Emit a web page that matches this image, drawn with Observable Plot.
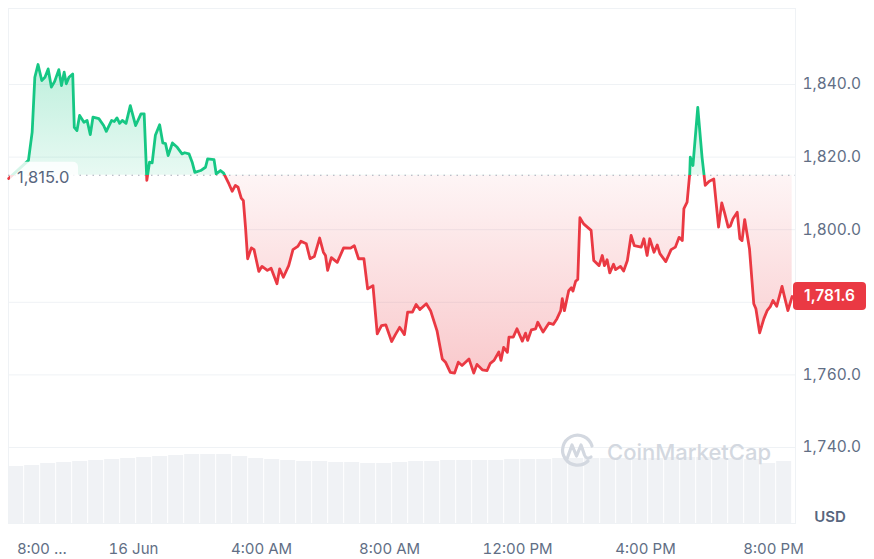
<!DOCTYPE html>
<html><head><meta charset="utf-8">
<script src="https://cdn.jsdelivr.net/npm/d3@7"></script>
<script src="https://cdn.jsdelivr.net/npm/@observablehq/plot@0.6"></script>
<style>
body{margin:0;background:#fff;font-family:Inter,"Noto Sans",sans-serif;}
#wrap{position:relative;width:874px;height:559px;overflow:hidden;}
#wrap svg{position:absolute;left:0;top:0;}
</style></head><body><div id="wrap"></div>
<script>
// minutes since 15 Jun 20:00
const minutes = [6,43,50,55,61,68,74,80,86,92,100,105,110,114,119,126,129,134,139,147,153,159,164,175,184,189,199,204,209,214,219,226,234,244,254,260,265,270,275,281,289,295,300,305,313,322,331,336,344,350,355,366,375,379,391,395,403,409,419,425,431,436,442,446,450,454,461,466,475,481,491,498,509,514,521,531,539,548,554,564,571,579,589,596,600,604,611,622,634,647,654,662,672,679,689,697,705,713,724,731,739,748,754,763,770,777,789,797,809,819,825,834,842,849,856,869,878,884,894,903,909,916,925,929,934,941,944,952,959,969,975,979,986,994,998,1008,1019,1027,1034,1041,1044,1048,1056,1061,1064,1069,1073,1077,1084,1098,1103,1113,1119,1123,1128,1133,1140,1144,1153,1159,1166,1173,1179,1192,1197,1203,1208,1216,1222,1227,1238,1248,1256,1263,1269,1272,1278,1283,1284,1289,1298,1306,1312,1319,1328,1337,1343,1348,1355,1359,1364,1372,1377,1381,1386,1395,1403,1407,1414,1422,1428,1434,1439,1446,1456,1460,1467,1475];
const prices = [1814.1,1819.1,1826.9,1842.0,1845.5,1841.1,1842.0,1844.3,1839.3,1840.8,1844.1,1839.7,1843.4,1840.2,1842.0,1842.9,1828.2,1827.3,1831.5,1829.6,1830.1,1826.2,1831.0,1830.6,1828.7,1827.1,1830.1,1829.8,1830.8,1829.3,1830.1,1829.3,1834.2,1828.7,1831.9,1831.9,1813.6,1818.6,1818.4,1826.0,1828.9,1823.9,1823.7,1820.4,1823.9,1822.7,1820.9,1821.2,1820.9,1818.6,1815.8,1816.3,1817.2,1819.5,1819.3,1815.4,1816.3,1815.6,1812.6,1810.6,1812.2,1811.7,1808.7,1808.0,1800.7,1792.0,1795.0,1794.5,1788.5,1789.9,1788.8,1789.4,1785.1,1789.2,1786.9,1790.1,1794.5,1795.4,1796.8,1796.1,1792.0,1792.6,1797.7,1793.8,1792.9,1788.8,1792.3,1791.0,1795.0,1794.9,1795.6,1792.0,1792.0,1783.7,1784.6,1771.3,1773.6,1773.8,1769.2,1771.1,1773.1,1771.1,1777.3,1777.3,1779.4,1778.0,1779.6,1777.7,1772.2,1764.4,1763.5,1760.7,1760.5,1763.5,1762.6,1764.4,1760.5,1762.9,1761.4,1761.2,1763.2,1764.0,1766.3,1764.0,1767.6,1766.2,1770.4,1770.4,1772.7,1769.3,1771.5,1769.5,1772.4,1772.7,1774.5,1771.8,1774.3,1773.9,1775.5,1777.7,1781.0,1777.7,1783.2,1784.0,1783.1,1785.8,1786.3,1803.3,1801.6,1799.8,1791.5,1790.1,1792.9,1790.1,1791.7,1788.1,1790.5,1789.0,1789.9,1788.6,1791.5,1798.4,1795.6,1795.2,1797.5,1792.9,1797.5,1793.8,1795.8,1793.4,1791.2,1794.5,1795.2,1797.9,1797.0,1805.8,1807.6,1815.6,1820.0,1817.7,1833.7,1820.0,1812.2,1813.3,1814.0,1800.7,1807.4,1804.8,1800.7,1801.0,1803.0,1804.8,1797.5,1797.0,1802.8,1794.7,1779.6,1778.2,1771.6,1775.5,1777.7,1778.8,1780.5,1778.9,1784.4,1781.9,1777.7,1781.6];
// relative volume, 30-minute slots starting at minute 5
const volumes = [57,58,60,61,62,63,64,65,66,67,68,69,69,69,67,65,64,63,62,62,61,61,60,60,61,62,62,63,63,63,63,64,64,64,65,65,65,65,65,65,65,66,66,66,65,65,64,60,62];
const openPrice = 1815.0;
const lastPrice = 1781.6;
const yTicks = [1740,1760,1780,1800,1820,1840];
const yLabelTicks = [1740,1760,1800,1820,1840];
const xTicks = [240,480,720,960,1200,1440];
const xTickLabels = ["16 Jun","4:00 AM","8:00 AM","12:00 PM","4:00 PM","8:00 PM"];
const firstTickLabel = "8:00 ...";

const W=874,H=559,mL=8,mR=79,mT=8,mB=36;
const xDomain=[5.625,1481.25];
const yDomain=[1719.06,1860.94];
const n = Math.min(minutes.length, prices.length);
const data = d3.range(n).map(i=>({m:minutes[i], p:prices[i]}));
const vol = volumes.map((v,i)=>({t0:5+30*i, t1:5+30*(i+1), v}));
const fmt = d3.format(",.1f");
const gray = "#616e85";

const volPlot = Plot.plot({
  width:W,height:H,marginLeft:mL,marginRight:mR,marginTop:423,marginBottom:mB,
  style:{background:"transparent"},
  x:{domain:xDomain,axis:null}, y:{domain:[0,100],axis:null},
  marks:[Plot.rectY(vol,{x1:"t0",x2:"t1",y:"v",fill:"#f0f2f5",insetLeft:0.5,insetRight:0.5})]
});

const chart = Plot.plot({
  width:W,height:H,marginLeft:mL,marginRight:mR,marginTop:mT,marginBottom:mB,
  style:{background:"transparent",fontFamily:"Inter, 'Noto Sans', sans-serif",fontSize:"15px",color:gray},
  x:{domain:xDomain,label:null}, y:{domain:yDomain,label:null},
  marks:[
    Plot.gridY(yTicks,{stroke:"#eff2f5",strokeOpacity:1}),
    Plot.frame({stroke:"#eff2f5"}),
    Plot.areaY(data,{x:"m",y1:openPrice,y2:"p",fill:"url(#areaGrad)"}),
    Plot.ruleY([openPrice],{stroke:"#a6acb9",strokeDasharray:"1.5,5",strokeWidth:1.2}),
    Plot.lineY(data,{x:"m",y:"p",stroke:"url(#lineGrad)",strokeWidth:2.8,strokeLinejoin:"round"}),
    Plot.axisY(yLabelTicks,{anchor:"right",label:null,tickSize:0,tickPadding:7,tickFormat:fmt,fill:gray,fontSize:15.5}),
    Plot.axisX(xTicks,{label:null,tickSize:0,tickPadding:20,tickFormat:d=>xTickLabels[xTicks.indexOf(d)],fill:gray,fontSize:15})
  ]
});

const wrap = document.getElementById("wrap");
wrap.appendChild(volPlot);
wrap.appendChild(chart);

const ys = chart.scale("y"), xs = chart.scale("x");
const by = ys.apply(openPrice);
const svg = d3.select(chart);
const defs = svg.insert("defs",":first-child");
const lg = defs.append("linearGradient").attr("id","lineGrad").attr("gradientUnits","userSpaceOnUse")
  .attr("x1",0).attr("x2",0).attr("y1",0).attr("y2",H);
const bo = by/H;
[[0,"#16c784"],[bo,"#16c784"],[bo,"#ea3943"],[1,"#ea3943"]].forEach(([o,c])=>lg.append("stop").attr("offset",o).attr("stop-color",c));
const ag = defs.append("linearGradient").attr("id","areaGrad").attr("gradientUnits","userSpaceOnUse")
  .attr("x1",0).attr("x2",0).attr("y1",0).attr("y2",H);
const yTop = ys.apply(d3.max(prices)), yBot = ys.apply(d3.min(prices));
[[0,"#16c784",0.3],[yTop/H,"#16c784",0.28],[bo,"#16c784",0.1],[bo,"#ea3943",0.05],[yBot/H,"#ea3943",0.27],[1,"#ea3943",0.3]]
  .forEach(([o,c,op])=>ag.append("stop").attr("offset",o).attr("stop-color",c).attr("stop-opacity",op));

const ov = svg.append("g").attr("font-family","Inter, 'Noto Sans', sans-serif").attr("text-anchor","start");
// open price label
ov.append("rect").attr("x",mL+2).attr("y",by-13).attr("width",68).attr("height",28).attr("rx",5)
  .attr("fill","#fff").attr("fill-opacity",0.82);
ov.append("text").attr("x",mL+9).attr("y",by+2).attr("dy","0.35em").attr("text-anchor","start").attr("font-size",16.5)
  .attr("fill","#58667e").text(fmt(openPrice));
// last price badge
const ly = ys.apply(lastPrice);
ov.append("rect").attr("x",W-mR-2).attr("y",ly-14).attr("width",73).attr("height",28).attr("rx",4).attr("fill","#ea3943");
ov.append("text").attr("x",W-mR-2+36.5).attr("y",ly).attr("dy","0.35em").attr("text-anchor","middle")
  .attr("font-size",15.5).attr("font-weight",600).attr("fill","#fff").text(fmt(lastPrice));
// USD
ov.append("text").attr("x",W-mR+35).attr("y",H-mB-1).attr("text-anchor","middle").attr("font-size",15)
  .attr("font-weight",600).attr("fill","#58667e").text("USD");
// first (truncated) tick label
ov.append("text").attr("x",xs.apply(0)+37).attr("y",H-mB+20).attr("dy","0.71em").attr("text-anchor","middle")
  .attr("font-size",15).attr("fill",gray).text(firstTickLabel);
// watermark
const wm = ov.append("g").attr("stroke","#d3d8e0").attr("fill","none").attr("stroke-width",3.2).attr("stroke-linecap","round").attr("stroke-linejoin","round");
wm.append("path").attr("d","M592,446 A15,15 0 1 0 588,461");
wm.append("path").attr("d","M567,459 L572,445 L576.5,456 L581,445 L584.5,455 Q586.5,460 591,457");
ov.append("text").attr("x",607).attr("y",452).attr("dy","0.35em").attr("text-anchor","start").attr("font-size",22).attr("font-weight",500)
  .attr("fill","#d3d8e0").text("CoinMarketCap");
</script></body></html>
